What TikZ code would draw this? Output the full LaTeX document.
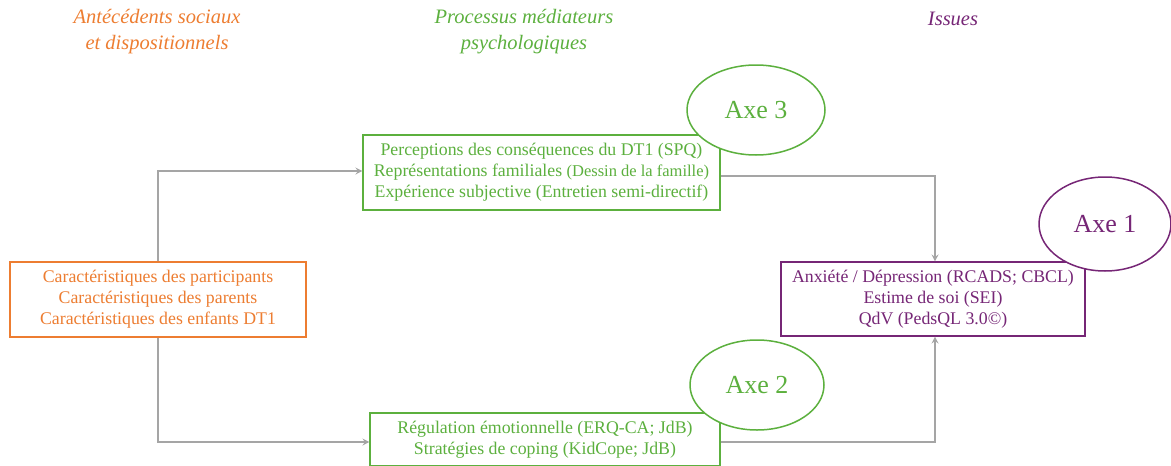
\documentclass[tikz,border=0pt]{standalone}
\usepackage{fontspec}
\setmainfont{Liberation Serif}
\usetikzlibrary{arrows.meta,shapes.geometric}
\definecolor{orangeC}{RGB}{237,125,49}
\definecolor{greenC}{RGB}{92,176,62}
\definecolor{purpleC}{RGB}{118,38,118}
\definecolor{lineC}{RGB}{165,165,165}
\tikzset{
  box/.style={draw, line width=1.1pt, fill=white, align=center, inner sep=0pt,
    font=\fontsize{17.8}{21}\selectfont},
  head/.style={align=center, font=\fontsize{20.5}{26}\selectfont\itshape},
  axe/.style={ellipse, draw, line width=1.5pt, fill=white, inner sep=0pt,
    font=\fontsize{26}{28}\selectfont},
  link/.style={draw=lineC, line width=1.7pt, -{Stealth[length=7pt,width=7pt,inset=2.5pt]}},
}
\begin{document}
\begin{tikzpicture}[x=1pt,y=-1pt]
\useasboundingbox (0,0) rectangle (1171,466);

% column headers
\node[head, text=orangeC] (hA) at (157,32) {Antécédents sociaux\\et dispositionnels};
\node[head, text=greenC] (hB) at (524,32) {Processus médiateurs\\psychologiques};
\node[head, text=purpleC] (hC) at (953,19) {Issues};

% boxes
\node[box, draw=orangeC, text=orangeC, minimum width=296pt, minimum height=75pt]
  (ante) at (158,299.5) {Caractéristiques des participants\\Caractéristiques des parents\\Caractéristiques des enfants DT1};
\node[box, draw=greenC, text=greenC, minimum width=357pt, minimum height=75pt]
  (perc) at (541.5,172.5) {Perceptions des conséquences du DT1 (SPQ)\\Représentations familiales {\fontsize{16.5}{21}\selectfont(Dessin de la famille)}\\Expérience subjective (Entretien semi-directif)};
\node[box, draw=greenC, text=greenC, minimum width=350pt, minimum height=53pt]
  (regu) at (545,439.5) {Régulation émotionnelle (ERQ-CA; JdB)\\Stratégies de coping (KidCope; JdB)};
\node[box, draw=purpleC, text=purpleC, minimum width=304pt, minimum height=74pt]
  (issu) at (933,299) {Anxiété / Dépression (RCADS; CBCL)\\Estime de soi (SEI)\\QdV (PedsQL 3.0©)};

% connectors
\draw[link] (ante.north) |- ([yshift=1.5pt]perc.west);
\draw[link] (ante.south) |- ([yshift=-2.5pt]regu.west);
\draw[link] ([yshift=-3.5pt]perc.east) -| ([xshift=2pt]issu.north);
\draw[link] ([yshift=-2.5pt]regu.east) -| ([xshift=2pt]issu.south);

% axis labels
\node[axe, draw=greenC, text=greenC, minimum width=138pt, minimum height=90pt] (ax3) at (756,110) {Axe 3};
\node[axe, draw=greenC, text=greenC, minimum width=134pt, minimum height=90pt] (ax2) at (757,385) {Axe 2};
\node[axe, draw=purpleC, text=purpleC, minimum width=132pt, minimum height=94pt] (ax1) at (1105,224) {Axe 1};
\end{tikzpicture}
\end{document}
